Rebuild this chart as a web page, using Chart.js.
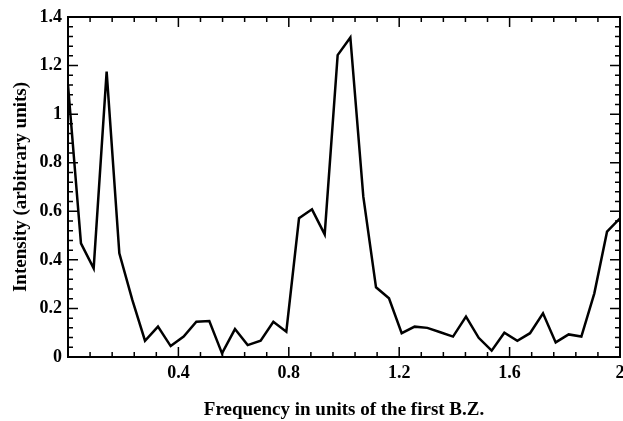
<!DOCTYPE html>
<html>
<head>
<meta charset="utf-8">
<script src="https://cdn.jsdelivr.net/npm/chart.js@4/dist/chart.umd.min.js"></script>
<style>
  html, body { margin: 0; padding: 0; background: #fff; }
  canvas { display: block; }
</style>
</head>
<body>
<canvas id="chart" width="623" height="421"></canvas>
<script>
// sample frequencies (units of the first B.Z.)
const frequency = [
  0, 0.047, 0.093, 0.140, 0.186, 0.233, 0.279, 0.326, 0.372, 0.419, 0.465,
  0.512, 0.558, 0.605, 0.651, 0.698, 0.744, 0.791, 0.837, 0.884, 0.930,
  0.977, 1.023, 1.070, 1.116, 1.163, 1.209, 1.256, 1.302, 1.349, 1.395,
  1.442, 1.488, 1.535, 1.581, 1.628, 1.674, 1.721, 1.767, 1.814, 1.860,
  1.907, 1.953, 2.000
]

// intensity
const intensity = [
  1.12, 0.468, 0.365, 1.175, 0.427, 0.235, 0.067, 0.125, 0.045, 0.084, 0.145,
  0.148, 0.015, 0.115, 0.049, 0.067, 0.145, 0.104, 0.571, 0.608, 0.505,
  1.243, 1.316, 0.66, 0.287, 0.242, 0.098, 0.125, 0.12, 0.102, 0.084,
  0.166, 0.079, 0.026, 0.1, 0.067, 0.098, 0.18, 0.06, 0.093, 0.084,
  0.262, 0.516, 0.571
]

const xTicks = [0.4, 0.8, 1.2, 1.6, 2]
const yTicks = [0, 0.2, 0.4, 0.6, 0.8, 1, 1.2, 1.4]

const fontFamily = "'Liberation Serif', 'Times New Roman', serif"
const tickFont = { family: fontFamily, size: 18, weight: "bold" }
const titleFont = { family: fontFamily, size: 19, weight: "bold" }

// boxed frame with inward major/minor ticks on all four sides
const frameTicks = {
  id: "frameTicks",
  afterDatasetsDraw(chart) {
    const { ctx, chartArea: a, scales: { x, y } } = chart
    ctx.save()
    ctx.strokeStyle = "#000"
    ctx.lineWidth = 2
    ctx.strokeRect(a.left, a.top, a.right - a.left, a.bottom - a.top)

    ctx.lineWidth = 1.5
    ctx.beginPath()
    for (let i = 1; i < 25; i++) {
      const px = x.getPixelForValue(i * 0.08)
      const len = i % 5 === 0 ? 10 : 5
      ctx.moveTo(px, a.bottom)
      ctx.lineTo(px, a.bottom - len)
      ctx.moveTo(px, a.top)
      ctx.lineTo(px, a.top + len)
    }
    for (let i = 1; i < 35; i++) {
      const py = y.getPixelForValue(i * 0.04)
      const len = i % 5 === 0 ? 10 : 5
      ctx.moveTo(a.left, py)
      ctx.lineTo(a.left + len, py)
      ctx.moveTo(a.right, py)
      ctx.lineTo(a.right - len, py)
    }
    ctx.stroke()
    ctx.restore()
  }
}

const label = (v) => String(+Number(v).toFixed(1))

new Chart(document.getElementById("chart"), {
  type: "line",
  data: {
    datasets: [{
      data: frequency.map((f, i) => ({ x: f, y: intensity[i] })),
      borderColor: "#000",
      borderWidth: 2.5,
      pointRadius: 0,
      tension: 0,
      fill: false
    }]
  },
  options: {
    responsive: false,
    devicePixelRatio: 1,
    animation: false,
    layout: { padding: { top: 17, right: 3, left: 0, bottom: 0 } },
    plugins: {
      legend: { display: false },
      tooltip: { enabled: false }
    },
    scales: {
      x: {
        type: "linear",
        min: 0,
        max: 2,
        afterBuildTicks: (s) => { s.ticks = xTicks.map(v => ({ value: v })) },
        afterFit: (s) => { s.height = 64; s.paddingLeft = 0; s.paddingRight = 0 },
        grid: { display: false, drawTicks: false },
        border: { display: false },
        ticks: {
          color: "#000",
          font: tickFont,
          padding: 6,
          maxRotation: 0,
          autoSkip: false,
          callback: label
        },
        title: {
          display: true,
          text: "Frequency in units of the first B.Z.",
          color: "#000",
          font: titleFont,
          padding: { top: 0, bottom: 0 }
        }
      },
      y: {
        min: 0,
        max: 1.4,
        afterBuildTicks: (s) => { s.ticks = yTicks.map(v => ({ value: v })) },
        afterFit: (s) => { s.width = 68; s.paddingTop = 0; s.paddingBottom = 0 },
        grid: { display: false, drawTicks: false },
        border: { display: false },
        ticks: {
          color: "#000",
          font: tickFont,
          padding: 6,
          autoSkip: false,
          callback: label
        },
        title: {
          display: true,
          text: "Intensity (arbitrary units)",
          color: "#000",
          font: titleFont,
          padding: { top: 10, bottom: 0 }
        }
      }
    }
  },
  plugins: [frameTicks]
})
</script>
</body>
</html>
